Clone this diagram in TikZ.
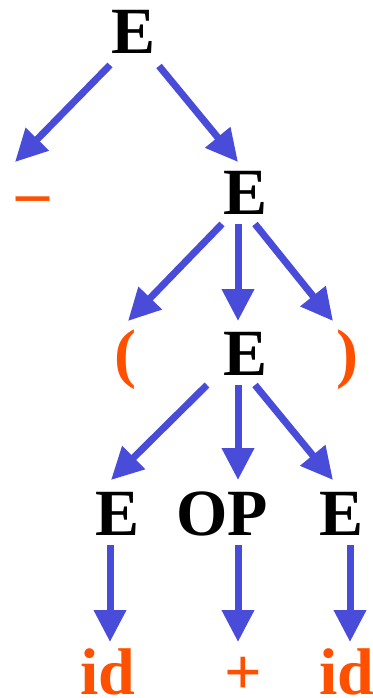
\documentclass[tikz,border=0pt]{standalone}
\usepackage{fontspec}
\setmainfont{Liberation Serif}
\usepackage{tikz}
\usetikzlibrary{arrows.meta,calc}
\definecolor{ecol}{RGB}{72,76,216}
\definecolor{tcol}{RGB}{255,80,0}

\begin{document}
\begin{tikzpicture}[x=1pt, y=-1pt,
  lab/.style={font=\fontsize{66}{66}\selectfont\bfseries, inner sep=0pt, anchor=base},
  term/.style={lab, text=tcol},
  edge/.style={ecol, line width=7pt, -{Triangle[length=32pt, width=31pt]}}]
\useasboundingbox (0,0) rectangle (372,698);
% nodes, row by row
\node[lab]  (e1)    at (134,54)  {E};
\node[term] (minus) at (33,214)  {\textendash};
\node[lab]  (e2)    at (246,214) {E};
\node[term] (lp)    at (125,375) {(};
\node[lab]  (e3)    at (246,375) {E};
\node[term] (rp)    at (347,375) {)};
\node[lab]  (el)    at (118,535) {E};
\node[lab]  (op)    at (222,535) {OP};
\node[lab]  (er)    at (342,535) {E};
\node[term] (idl)   at (108,694) {id};
\node[term] (plus)  at (243,694) {+};
\node[term] (idr)   at (347,694) {id};
% edges
\draw[edge] ($(e1.base)+(-24,11)$) -- ($(minus.base)+(-18,-52)$);
\draw[edge] ($(e1.base)+(25,12)$)  -- ($(e2.base)+(-8,-52)$);
\draw[edge] ($(e2.base)+(-24,10)$) -- ($(lp.base)+(3,-54)$);
\draw[edge] ($(e2.base)+(-8,10)$)  -- ($(e3.base)+(-8,-54)$);
\draw[edge] ($(e2.base)+(9,10)$)   -- ($(rp.base)+(-14,-54)$);
\draw[edge] ($(e3.base)+(-39,10)$) -- ($(el.base)+(-7,-55)$);
\draw[edge] ($(e3.base)+(-8,10)$)  -- ($(op.base)+(16,-55)$);
\draw[edge] ($(e3.base)+(9,10)$)   -- ($(er.base)+(-9,-55)$);
\draw[edge] ($(el.base)+(-8,10)$)  -- ($(idl.base)+(2,-52)$);
\draw[edge] ($(op.base)+(16,10)$)  -- ($(plus.base)+(-5,-52)$);
\draw[edge] ($(er.base)+(8,10)$)   -- ($(idr.base)+(3,-52)$);
\end{tikzpicture}
\end{document}
